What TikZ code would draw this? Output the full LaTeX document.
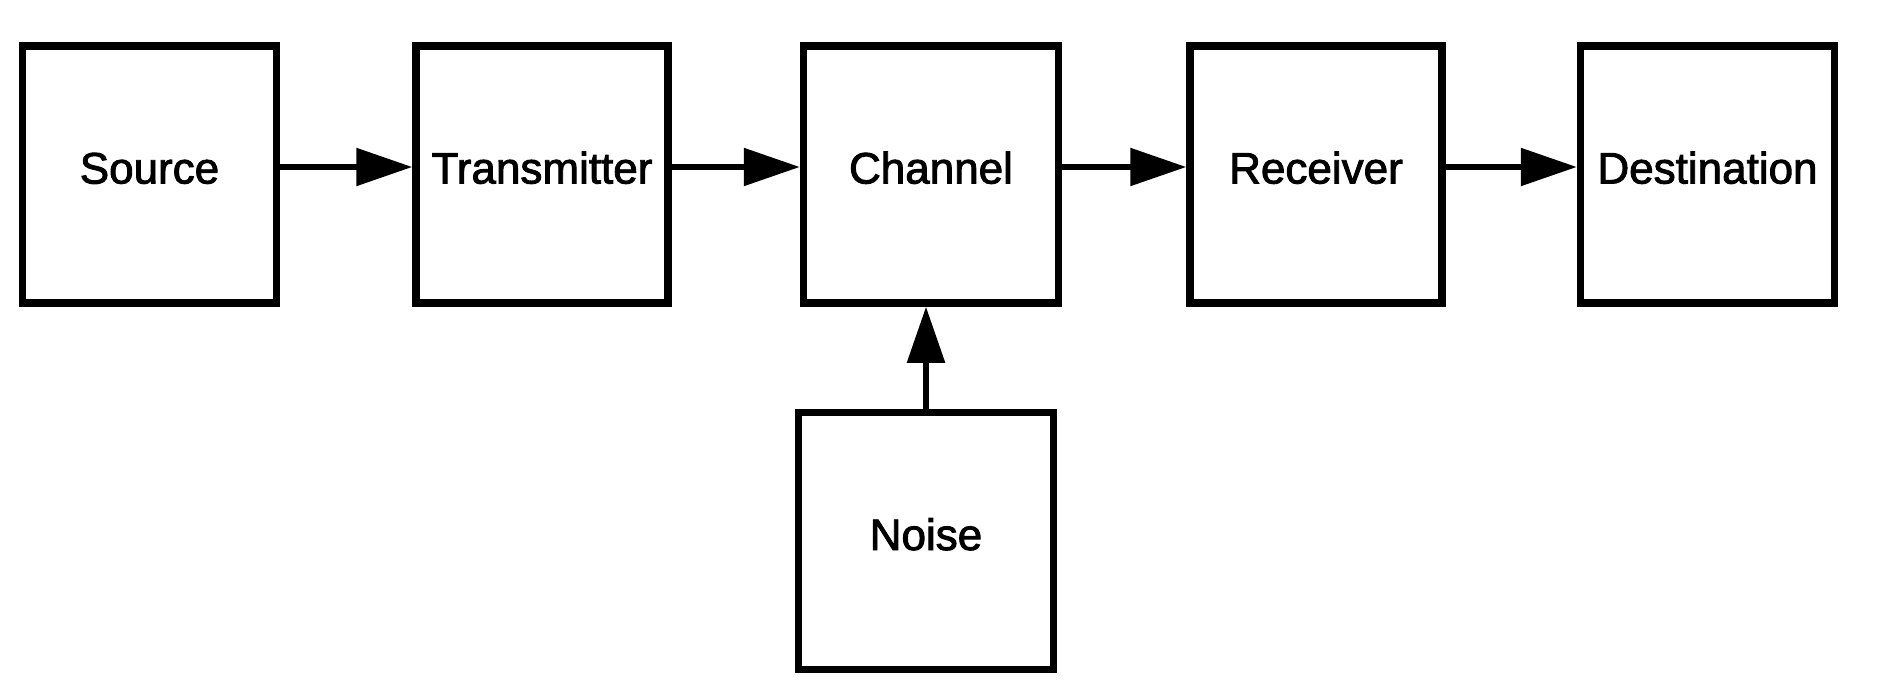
\documentclass[tikz,border=0pt]{standalone}
\usepackage{fontspec}
\setmainfont{Liberation Sans}
\usetikzlibrary{arrows.meta}
\newcommand{\heavytext}[1]{\special{pdf:literal direct 2 Tr 0.9 w}#1\special{pdf:literal direct 0 Tr}}
\begin{document}
\begin{tikzpicture}[x=1pt,y=-1pt,
  blockbox/.style={draw=black, line width=7.5pt, fill=white, minimum height=257pt,
    inner sep=0pt, font=\fontsize{44}{50}\selectfont, text height=32pt, text depth=14pt},
  arr/.style={line width=5.5pt, -{Triangle[length=56pt,width=37pt]}}]
\useasboundingbox (0,0) rectangle (1885,682);
\node[blockbox, minimum width=254pt] (source) at (149.5,174.5) {\heavytext{Source}};
\node[blockbox, minimum width=252pt] (trans) at (542,174.5) {\heavytext{Transmitter}};
\node[blockbox, minimum width=255pt] (channel) at (931,174.5) {\heavytext{Channel}};
\node[blockbox, minimum width=252pt] (recv) at (1316,174.5) {\heavytext{Receiver}};
\node[blockbox, minimum width=254pt] (dest) at (1707.5,174.5) {\heavytext{Destination}};
\node[blockbox, minimum width=255pt] (noise) at (926,541) {\heavytext{Noise}};
\coordinate (ay) at (0,167);
\draw[arr] (source.east |- ay) -- (trans.west |- ay);
\draw[arr] (trans.east |- ay) -- (channel.west |- ay);
\draw[arr] (channel.east |- ay) -- (recv.west |- ay);
\draw[arr] (recv.east |- ay) -- (dest.west |- ay);
\draw[arr] (noise.north) -- (noise.north |- channel.south);
\end{tikzpicture}
\end{document}
